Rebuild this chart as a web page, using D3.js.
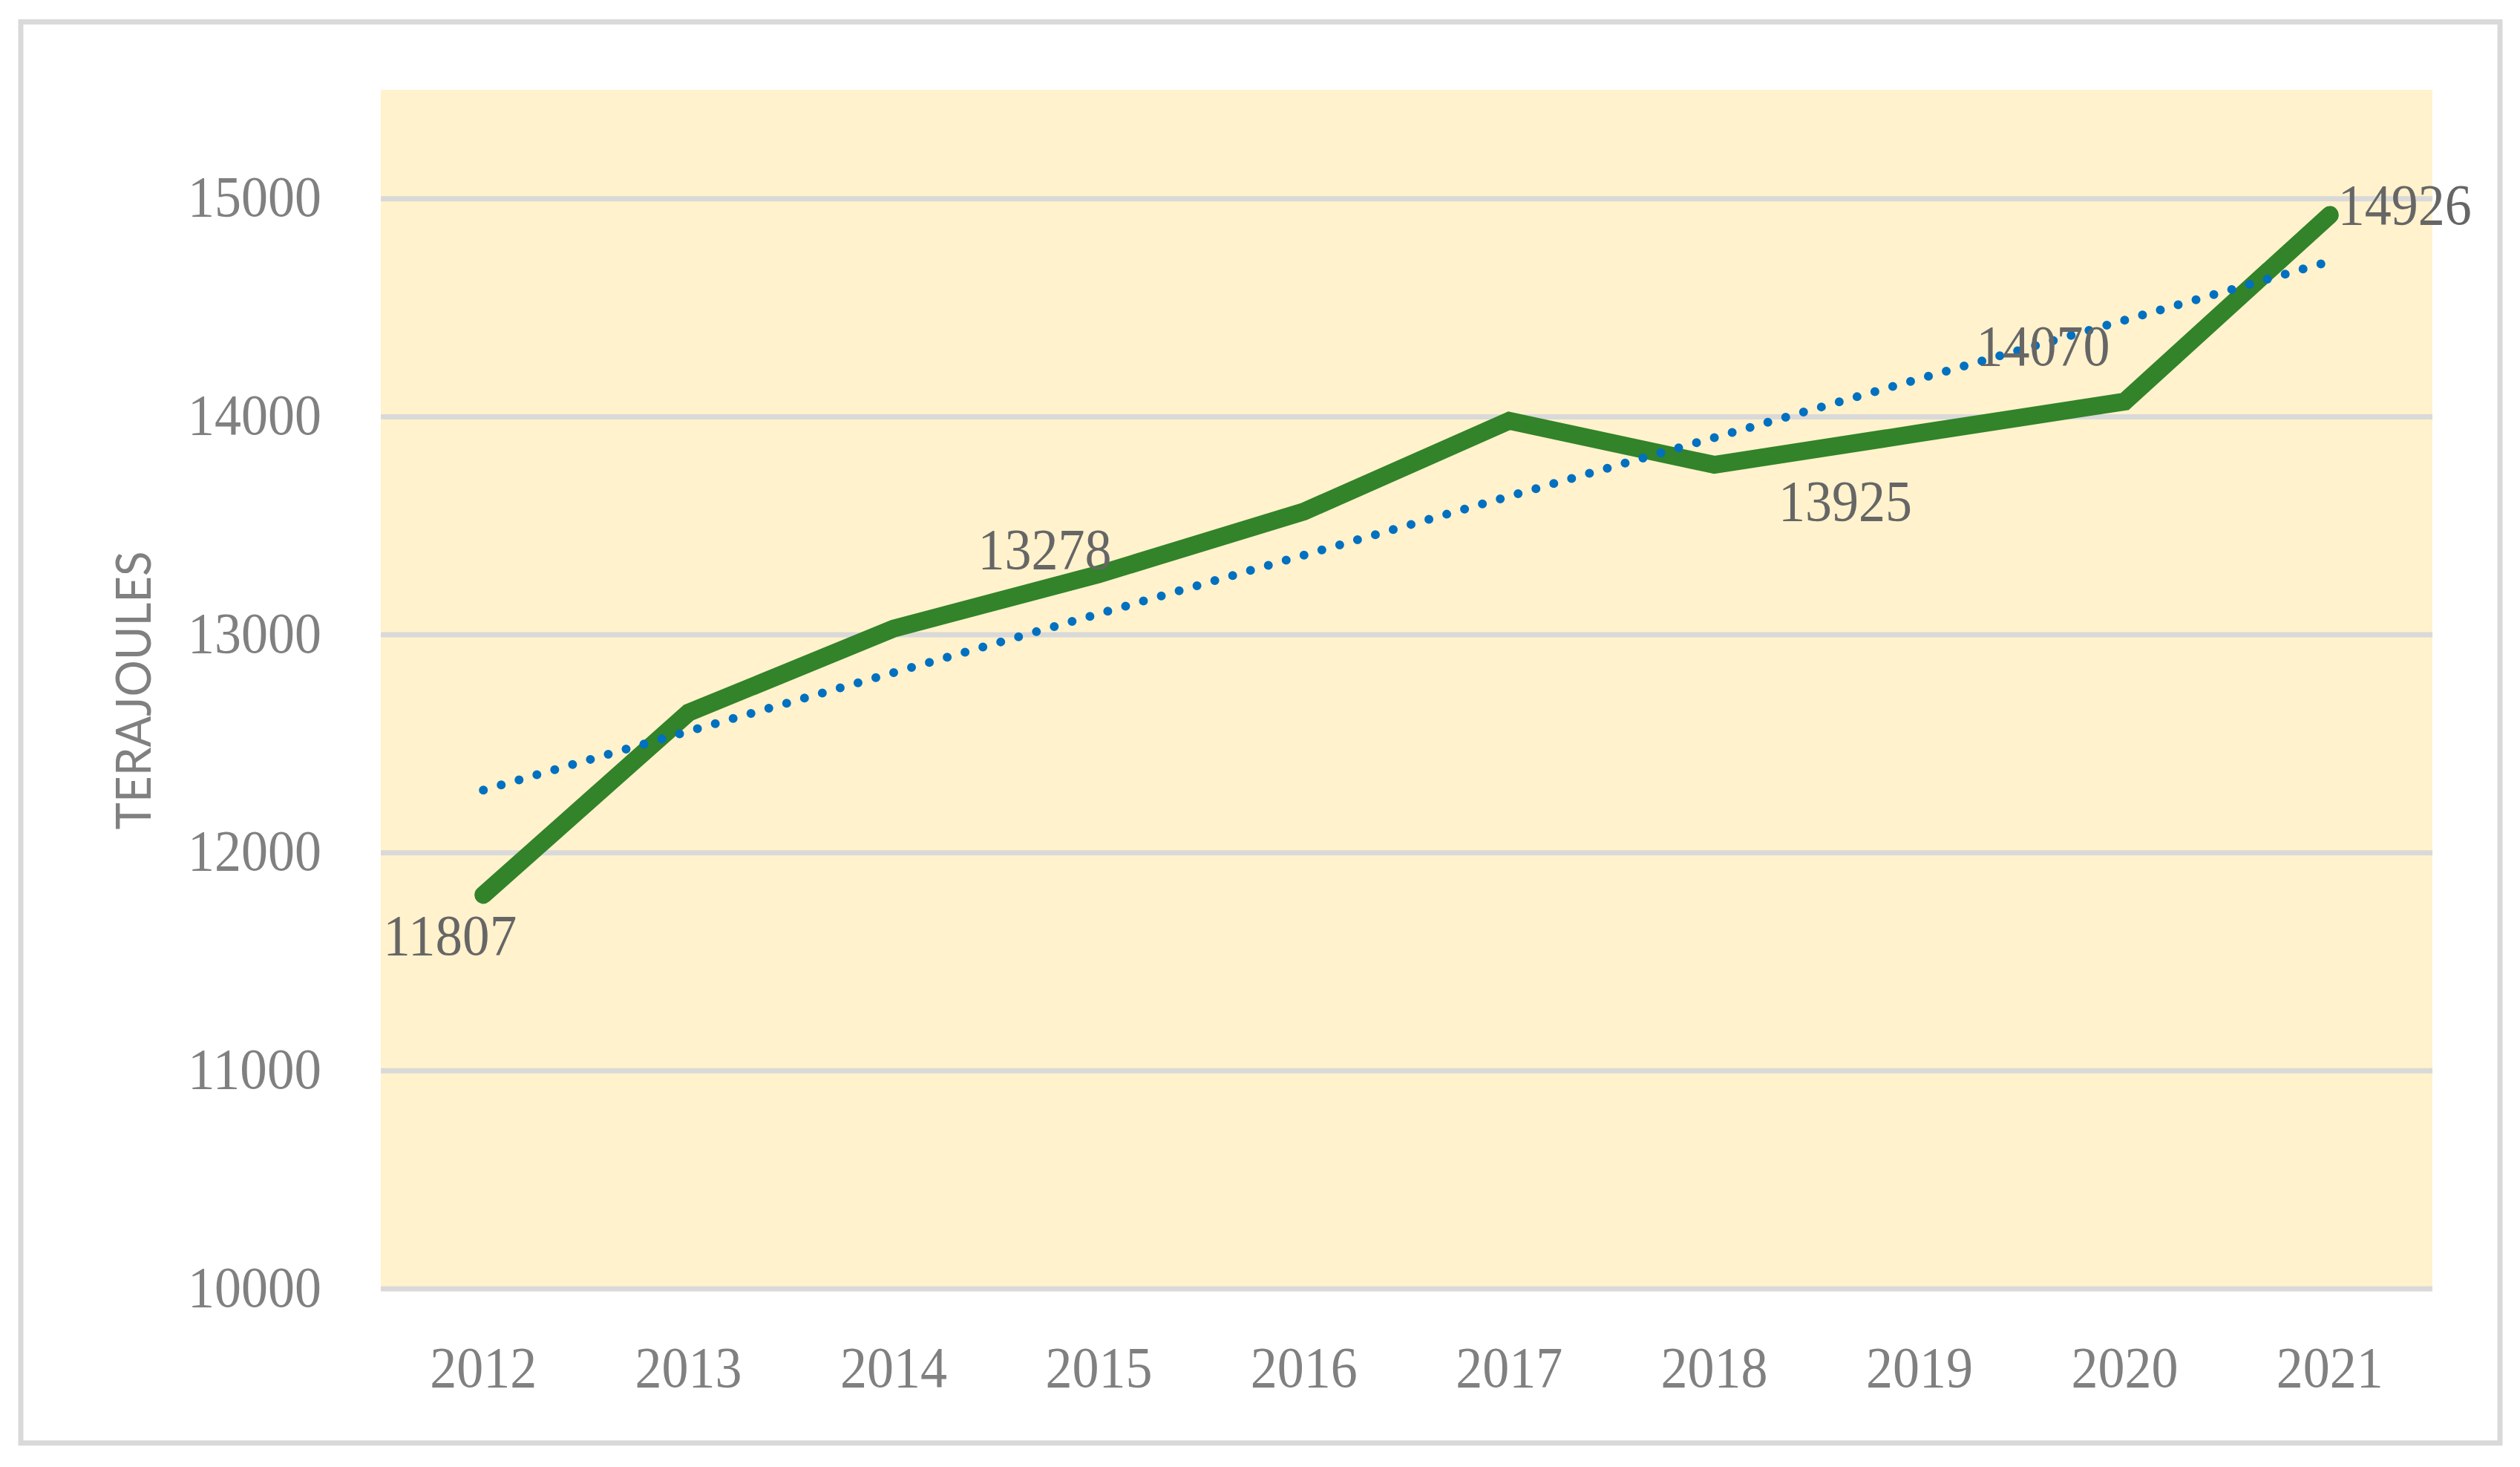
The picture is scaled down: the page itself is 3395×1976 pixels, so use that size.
<!DOCTYPE html>
<html>
<head>
<meta charset="utf-8">
<script src="https://cdn.jsdelivr.net/npm/d3@7"></script>
<style>
  html, body { margin: 0; padding: 0; background: #ffffff; }
  svg { display: block; }
</style>
</head>
<body>
<svg id="chart" width="3395" height="1976"></svg>
<script>
// ---- data ----
const years = [2012, 2013, 2014, 2015, 2016, 2017, 2018, 2019, 2020, 2021];
const values = [11807, 12643, 13029, 13278, 13566, 13982, 13780, 13925, 14070, 14926];
const yTicks = [10000, 11000, 12000, 13000, 14000, 15000];
const yDomain = [10000, 15500];
const labeledYears = [2012, 2015, 2019, 2020, 2021];
const axisTitle = "TERAJOULES";

// label placement (offsets from point, px)
const labelPlacement = {
  2012: { dx: -45, dy: 81 },
  2015: { dx: -73, dy: -7 },
  2019: { dx: -100, dy: 118 },
  2020: { dx: -110, dy: -49 },
  2021: { dx: 101, dy: 12 }
};

const W = 3395, H = 1976;
const plot = { left: 513, right: 3277, top: 121, bottom: 1736 };
const svg = d3.select("#chart");

// outer border
svg.append("rect")
  .attr("x", 28).attr("y", 29.5)
  .attr("width", 3368 - 28).attr("height", 1943.7 - 29.5)
  .attr("fill", "#ffffff").attr("stroke", "#d9d9d9").attr("stroke-width", 7);

const x = d3.scaleBand().domain(years).range([plot.left, plot.right]).padding(0);
const cx = d => x(d) + x.bandwidth() / 2;
const y = d3.scaleLinear().domain(yDomain).range([plot.bottom, plot.top]);

// plot background
svg.append("rect")
  .attr("x", plot.left).attr("y", plot.top)
  .attr("width", plot.right - plot.left).attr("height", plot.bottom - plot.top)
  .attr("fill", "#fff2cc");

// gridlines
svg.append("g").selectAll("line").data(yTicks).join("line")
  .attr("x1", plot.left).attr("x2", plot.right)
  .attr("y1", d => y(d)).attr("y2", d => y(d))
  .attr("stroke", "#d9d9d9").attr("stroke-width", 7);

const serif = "'Liberation Serif', 'Times New Roman', serif";
const digitW = 36;

// y axis labels
const yAxis = d3.axisLeft(y).tickValues(yTicks).tickSize(0).tickPadding(0).tickFormat(d3.format("d"));
const gy = svg.append("g").attr("transform", `translate(433,0)`).call(yAxis);
gy.select(".domain").remove();
gy.selectAll("text")
  .attr("font-family", serif).attr("font-size", 78).attr("fill", "#808080")
  .attr("x", 0).attr("dy", null).attr("y", 23)
  .attr("text-anchor", "end")
  .attr("textLength", d => String(d).length * digitW)
  .attr("lengthAdjust", "spacingAndGlyphs");

// x axis labels
const xAxis = d3.axisBottom(x).tickSize(0).tickPadding(0).tickFormat(d3.format("d"));
const gx = svg.append("g").attr("transform", `translate(0,0)`).call(xAxis);
gx.select(".domain").remove();
gx.selectAll("text")
  .attr("font-family", serif).attr("font-size", 78).attr("fill", "#808080")
  .attr("y", 1868).attr("dy", null)
  .attr("text-anchor", "middle")
  .attr("textLength", d => String(d).length * digitW)
  .attr("lengthAdjust", "spacingAndGlyphs");

// axis title
svg.append("text")
  .attr("transform", "translate(203,930) rotate(-90)")
  .attr("text-anchor", "middle")
  .attr("font-family", "Lato, 'DejaVu Sans', sans-serif")
  .attr("font-size", 65).attr("fill", "#808080")
  .attr("textLength", 375).attr("lengthAdjust", "spacingAndGlyphs")
  .text(axisTitle);

const data = years.map((yr, i) => ({ year: yr, value: values[i] }));

// main line
const line = d3.line().x(d => cx(d.year)).y(d => y(d.value));
svg.append("path").datum(data)
  .attr("d", line)
  .attr("fill", "none").attr("stroke", "#32832a")
  .attr("stroke-width", 24).attr("stroke-linecap", "round").attr("stroke-linejoin", "miter");

// linear trendline (least squares on the data)
const n = values.length;
const xs = years.map((_, i) => i + 1);
const mx = d3.mean(xs), my = d3.mean(values);
const slope = d3.sum(xs.map((xi, i) => (xi - mx) * (values[i] - my))) / d3.sum(xs.map(xi => (xi - mx) ** 2));
const intercept = my - slope * mx;
const trend = [
  { year: years[0], value: intercept + slope * xs[0] },
  { year: years[n - 1], value: intercept + slope * xs[n - 1] }
];
svg.append("path").datum(trend)
  .attr("d", line)
  .attr("fill", "none").attr("stroke", "#0070c0")
  .attr("stroke-width", 12).attr("stroke-linecap", "round")
  .attr("stroke-dasharray", "0 25");

// data labels
svg.append("g").selectAll("text")
  .data(data.filter(d => labeledYears.includes(d.year)))
  .join("text")
  .attr("x", d => cx(d.year) + labelPlacement[d.year].dx)
  .attr("y", d => y(d.value) + labelPlacement[d.year].dy)
  .attr("text-anchor", "middle")
  .attr("font-family", serif).attr("font-size", 78).attr("fill", "#666666")
  .attr("textLength", d => String(d.value).length * digitW)
  .attr("lengthAdjust", "spacingAndGlyphs")
  .text(d => d.value);
</script>
</body>
</html>
